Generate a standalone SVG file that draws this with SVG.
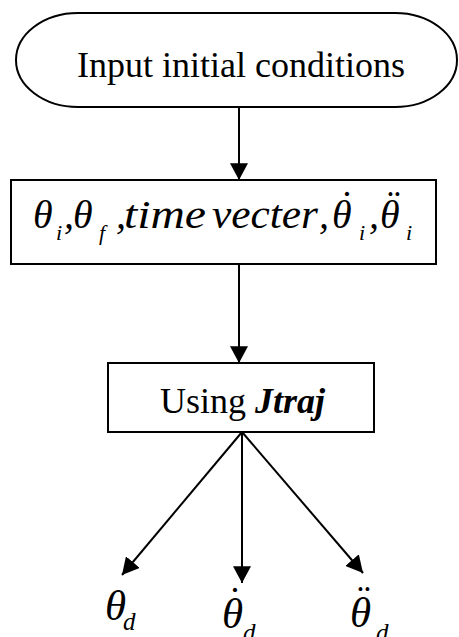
<svg xmlns="http://www.w3.org/2000/svg" width="459" height="637" viewBox="0 0 459 637">
<style>
.shape{fill:#fff;stroke:#000;stroke-width:2}
.conn{stroke:#000;stroke-width:2;fill:none}
.rm{font-family:"Liberation Serif","Times New Roman",serif;font-size:36px;fill:#000}
.it{font-family:"Liberation Serif","Times New Roman",serif;font-style:italic;font-size:40px;fill:#000}
.th{font-family:"Liberation Serif","Times New Roman",serif;font-style:italic;font-size:40px;fill:#000}
.thb{font-family:"Liberation Serif","Times New Roman",serif;font-style:italic;font-size:43px;fill:#000}
.sub{font-family:"Liberation Serif","Times New Roman",serif;font-style:italic;font-size:22px;fill:#000}
.subb{font-family:"Liberation Serif","Times New Roman",serif;font-style:italic;font-size:25px;fill:#000}
.acc{font-family:"Liberation Serif","Times New Roman",serif;font-size:40px;fill:#000;text-anchor:middle}
</style>
<defs>
<marker id="ah" markerUnits="userSpaceOnUse" markerWidth="18" markerHeight="18" viewBox="0 0 16 16" refX="15" refY="8" orient="auto">
<path d="M0,0 L15,8 L0,16 Z" fill="#000"/>
</marker>
</defs>
<g id="connectors">
<line class="conn" x1="239" y1="107" x2="239" y2="180" marker-end="url(#ah)"/>
<line class="conn" x1="239" y1="264" x2="239" y2="363" marker-end="url(#ah)"/>
<line class="conn" x1="242" y1="432" x2="122" y2="575" marker-end="url(#ah)"/>
<line class="conn" x1="242" y1="432" x2="242" y2="583" marker-end="url(#ah)"/>
<line class="conn" x1="242" y1="432" x2="363" y2="573" marker-end="url(#ah)"/>
</g>
<g id="start">
<rect class="shape" x="16" y="13" width="441" height="94" rx="62" ry="47"/>
<text class="rm" x="241" y="77" text-anchor="middle">Input initial conditions</text>
</g>
<g id="params">
<rect class="shape" x="11" y="180" width="425" height="84"/>
<text class="th" x="33" y="228">θ</text>
<text class="sub" x="56" y="240">i</text>
<text class="it" x="64" y="228">,</text>
<text class="th" x="73" y="228">θ</text>
<text class="sub" x="99" y="240">f</text>
<text class="it" x="116" y="228">,</text>
<text class="it" x="124" y="228" textLength="82" lengthAdjust="spacingAndGlyphs">time</text>
<text class="it" x="212" y="228" textLength="106" lengthAdjust="spacingAndGlyphs">vecter</text>
<text class="it" x="319" y="228">,</text>
<text class="th" x="332" y="228">θ</text>
<text class="acc" x="347" y="218">˙</text>
<text class="sub" x="359" y="240">i</text>
<text class="it" x="369" y="228">,</text>
<text class="th" x="380" y="228">θ</text>
<text class="acc" x="394" y="218">¨</text>
<text class="sub" x="406" y="240">i</text>
</g>
<g id="jtraj">
<rect class="shape" x="108" y="363" width="266" height="69"/>
<text class="rm" x="160" y="413">Using <tspan font-weight="bold" font-style="italic">Jtraj</tspan></text>
</g>
<g id="out-theta">
<text class="thb" x="105" y="620">θ</text>
<text class="subb" x="123" y="630">d</text>
</g>
<g id="out-thetadot">
<text class="thb" x="222" y="628">θ</text>
<text class="acc" x="235" y="614">˙</text>
<text class="subb" x="243" y="641">d</text>
</g>
<g id="out-thetaddot">
<text class="thb" x="350" y="627">θ</text>
<text class="acc" x="364" y="613">¨</text>
<text class="subb" x="376" y="641">d</text>
</g>
</svg>
